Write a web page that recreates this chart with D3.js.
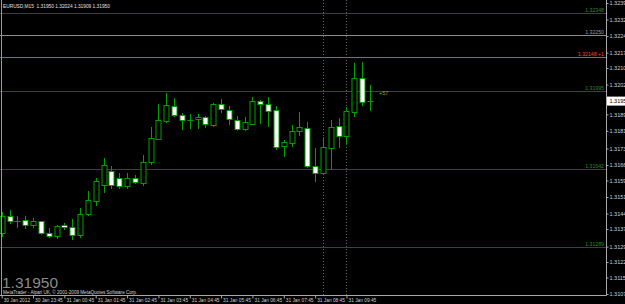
<!DOCTYPE html>
<html><head><meta charset="utf-8">
<script src="https://cdn.jsdelivr.net/npm/d3@7"></script>
<style>html,body{margin:0;padding:0;background:#000;overflow:hidden}svg{display:block}</style>
</head><body>
<svg id="c" width="625" height="304"></svg>
<script>
// ---------- data ----------
const chartTitle = "EURUSD,M15  1.31950 1.32024 1.31909 1.31950";
const lastPrice = 1.31950;
const barTimes = [
 "30 Jan 22:45","30 Jan 23:00","30 Jan 23:15","30 Jan 23:30","30 Jan 23:45",
 "31 Jan 00:00","31 Jan 00:15","31 Jan 00:30","31 Jan 00:45","31 Jan 01:00","31 Jan 01:15","31 Jan 01:30","31 Jan 01:45",
 "31 Jan 02:00","31 Jan 02:15","31 Jan 02:30","31 Jan 02:45","31 Jan 03:00","31 Jan 03:15","31 Jan 03:30","31 Jan 03:45",
 "31 Jan 04:00","31 Jan 04:15","31 Jan 04:30","31 Jan 04:45","31 Jan 05:00","31 Jan 05:15","31 Jan 05:30","31 Jan 05:45",
 "31 Jan 06:00","31 Jan 06:15","31 Jan 06:30","31 Jan 06:45","31 Jan 07:00","31 Jan 07:15","31 Jan 07:30","31 Jan 07:45",
 "31 Jan 08:00","31 Jan 08:15","31 Jan 08:30","31 Jan 08:45","31 Jan 09:00","31 Jan 09:15","31 Jan 09:30","31 Jan 09:45",
 "31 Jan 10:00","31 Jan 10:15","31 Jan 10:30"];
const openP  = [1.31352,1.31429,1.31407,1.31411,1.31390,1.31405,1.31352,1.31336,1.31387,1.31378,1.31343,1.31436,1.31499,
 1.31569,1.31633,1.31601,1.31565,1.31601,1.31579,1.31674,1.31780,1.31861,1.31929,1.31887,1.31864,1.31868,1.31877,
 1.31842,1.31937,1.31911,1.31866,1.31825,1.31848,1.31950,1.31938,1.31908,1.31745,1.31762,1.31813,1.31829,1.31657,
 1.31623,1.31736,1.31837,1.31793,1.31902,1.32055,1.31950];
const highP  = [1.31447,1.31458,1.31429,1.31427,1.31418,1.31408,1.31374,1.31388,1.31396,1.31414,1.31465,1.31542,1.31601,
 1.31692,1.31656,1.31624,1.31624,1.31615,1.31706,1.31833,1.31937,1.31985,1.31964,1.31896,1.31893,1.31890,1.31882,
 1.31941,1.31960,1.31926,1.31882,1.31877,1.31967,1.31955,1.31967,1.31928,1.31774,1.31842,1.31902,1.31854,1.31736,
 1.31789,1.31864,1.31873,1.31923,1.32123,1.32127,1.32024];
const lowP   = [1.31338,1.31397,1.31380,1.31374,1.31377,1.31347,1.31334,1.31331,1.31371,1.31326,1.31334,1.31433,1.31479,
 1.31538,1.31556,1.31556,1.31558,1.31579,1.31569,1.31665,1.31778,1.31857,1.31882,1.31822,1.31829,1.31827,1.31834,
 1.31837,1.31902,1.31846,1.31819,1.31819,1.31846,1.31849,1.31838,1.31731,1.31701,1.31746,1.31796,1.31650,1.31589,
 1.31619,1.31641,1.31743,1.31754,1.31884,1.31932,1.31909];
const closeP = [1.31429,1.31406,1.31407,1.31388,1.31406,1.31350,1.31336,1.31383,1.31377,1.31344,1.31438,1.31500,1.31586,
 1.31660,1.31569,1.31565,1.31601,1.31583,1.31674,1.31783,1.31864,1.31932,1.31887,1.31864,1.31864,1.31879,1.31845,
 1.31937,1.31914,1.31870,1.31825,1.31854,1.31950,1.31936,1.31905,1.31742,1.31764,1.31814,1.31831,1.31657,1.31623,
 1.31740,1.31834,1.31793,1.31904,1.32055,1.31946,1.31950];
const priceTicks = [1.32395,1.32320,1.32245,1.32170,1.32100,1.32025,1.31890,1.31815,1.31735,1.31660,
 1.31590,1.31515,1.31440,1.31370,1.31290,1.31220,1.31150,1.31075];
const timeTickBars = ["30 Jan 22:45","30 Jan 23:45","31 Jan 00:45","31 Jan 01:45","31 Jan 02:45","31 Jan 03:45",
 "31 Jan 04:45","31 Jan 05:45","31 Jan 06:45","31 Jan 07:45","31 Jan 08:45","31 Jan 09:45"];
const timeTickLabels = ["30 Jan 2012","30 Jan 23:45","31 Jan 00:45","31 Jan 01:45","31 Jan 02:45","31 Jan 03:45",
 "31 Jan 04:45","31 Jan 05:45","31 Jan 06:45","31 Jan 07:45","31 Jan 08:45","31 Jan 09:45"];
const levelPrices = [1.32348,1.32250,1.32148,1.31995,1.31642,1.31289];
const levelLabels = ["1.32348","1.32250","1.32148 +1","1.31995","1.31642","1.31289"];
const levelKinds  = ["green","grey","orange","green","green","green"];
const vLineBars = ["31 Jan 09:00","31 Jan 09:45"];
const noteText = "+57";
const footerText = "MetaTrader - Alpari UK, \u00a9 2001-2009 MetaQuotes Software Corp.";

// ---------- drawing ----------
const W = 625, H = 304, axisX = 606.5, axisY = 295.5;
const svg = d3.select("#c");
svg.append("rect").attr("width",W).attr("height",H).attr("fill","#000");

const x = d3.scalePoint().domain(barTimes).range([1.7, 370]);
const y = d3.scaleLinear().domain([1.31075, 1.32395]).range([294, 3]);

const levelColor = {green:"#0a640a", grey:"#8c8c8c", orange:"#e8461a"};
const levelText  = {green:"#2a8a2a", grey:"#9a9a9a", orange:"#f0501e"};
const FONT = "Liberation Sans, Arial, sans-serif";

// big price watermark
svg.append("text").attr("x",2).attr("y",288).attr("font-family",FONT).attr("font-size",15.5)
  .attr("fill","#8a8a8a").text(d3.format(".5f")(lastPrice));

// horizontal level lines
const lv = svg.append("g");
levelPrices.forEach((p,i)=>{
  const yy = Math.round(y(p)) + 0.5;
  lv.append("line").attr("x1",0).attr("x2",axisX).attr("y1",yy).attr("y2",yy)
    .attr("stroke",levelColor[levelKinds[i]]).attr("stroke-width",1);
  lv.append("text").attr("x",604).attr("y",yy-1.5).attr("text-anchor","end")
    .attr("font-family",FONT).attr("font-size",5.2).attr("fill",levelText[levelKinds[i]]).text(levelLabels[i]);
});

// vertical dotted lines
vLineBars.forEach(b=>{
  const xx = Math.round(x(b)) + 0.5;
  svg.append("line").attr("x1",xx).attr("x2",xx).attr("y1",0).attr("y2",axisY)
    .attr("stroke","#6a6a6a").attr("stroke-dasharray","1,2");
});

// candles
const CANDLE = "#00a000";
const bars = svg.append("g");
barTimes.forEach((t,i)=>{
  const cx = Math.round(x(t)) + 0.5;
  const o = openP[i], c = closeP[i];
  bars.append("line").attr("x1",cx).attr("x2",cx).attr("y1",Math.round(y(highP[i])))
    .attr("y2",Math.round(y(lowP[i]))+1).attr("stroke",CANDLE);
  const yTop = Math.round(y(Math.max(o,c))), yBot = Math.round(y(Math.min(o,c)));
  if (yBot - yTop < 1) {
    bars.append("line").attr("x1",cx-3).attr("x2",cx+3).attr("y1",yTop+0.5).attr("y2",yTop+0.5).attr("stroke",CANDLE);
  } else {
    bars.append("rect").attr("x",cx-2.5).attr("y",yTop+0.5).attr("width",5).attr("height",yBot-yTop)
      .attr("fill", c > o ? "#000" : "#ffffff").attr("stroke",CANDLE).attr("stroke-width",1);
  }
});

// note text
svg.append("text").attr("x",379).attr("y",95).attr("font-family",FONT).attr("font-size",5.5)
  .attr("fill","#a0a020").text(noteText);

// frame lines
svg.append("line").attr("x1",1.5).attr("x2",1.5).attr("y1",0).attr("y2",axisY).attr("stroke","#9a9a9a");
svg.append("line").attr("x1",axisX).attr("x2",axisX).attr("y1",0).attr("y2",axisY).attr("stroke","#a8a8a8");
svg.append("line").attr("x1",0).attr("x2",axisX).attr("y1",axisY).attr("y2",axisY).attr("stroke","#a8a8a8");

// right price axis
const ya = svg.append("g").attr("transform",`translate(${axisX},0)`)
  .call(d3.axisRight(y).tickValues(priceTicks).tickSize(2).tickPadding(1).tickFormat(d3.format(".5f")));
ya.select(".domain").remove();
ya.selectAll(".tick line").attr("stroke","#a8a8a8");
ya.selectAll(".tick text").attr("font-family",FONT).attr("font-size",5.5).attr("fill","#d0d0d0");

// bottom time axis
const xa = svg.append("g").attr("transform",`translate(0,${axisY})`)
  .call(d3.axisBottom(x).tickValues(timeTickBars).tickSize(3).tickFormat((d,i)=>timeTickLabels[i]));
xa.select(".domain").remove();
xa.selectAll(".tick line").attr("stroke","#a8a8a8");
xa.selectAll(".tick text").attr("text-anchor","start").attr("x",1.5).attr("y",6.5).attr("dy",0)
  .attr("font-family",FONT).attr("font-size",4.8).attr("fill","#d0d0d0");

// current price box
const cy = y(lastPrice);
svg.append("rect").attr("x",axisX+0.5).attr("y",cy-4.5).attr("width",W-axisX).attr("height",9).attr("fill","#fff");
svg.append("text").attr("x",609.5).attr("y",cy+2).attr("font-family",FONT).attr("font-size",5.5)
  .attr("fill","#000").text(d3.format(".5f")(lastPrice));

// title and footer
svg.append("text").attr("x",3).attr("y",8).attr("font-family",FONT).attr("font-size",4.8)
  .attr("fill","#e0e0e0").attr("xml:space","preserve").style("white-space","pre").text(chartTitle);
svg.append("text").attr("x",3).attr("y",293.5).attr("font-family",FONT).attr("font-size",4.6)
  .attr("fill","#d0d0d0").text(footerText);
</script>
</body></html>
